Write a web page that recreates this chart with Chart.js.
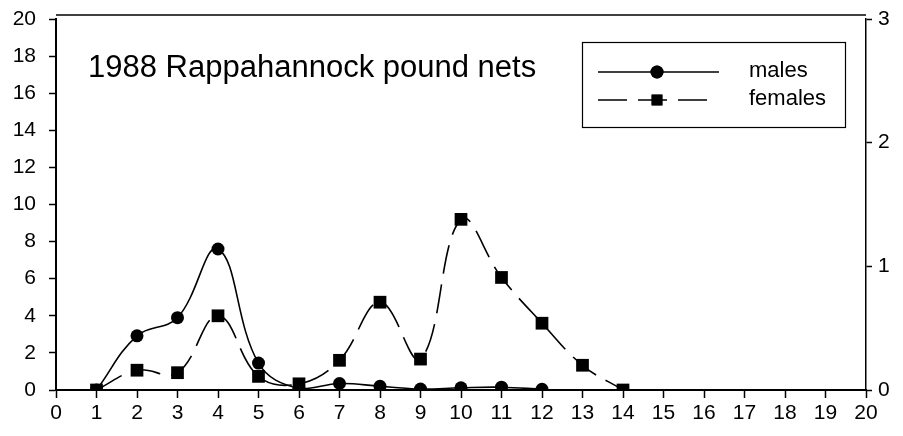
<!DOCTYPE html>
<html>
<head>
<meta charset="utf-8">
<script src="https://cdn.jsdelivr.net/npm/chart.js@4/dist/chart.umd.min.js"></script>
<style>
html,body{margin:0;padding:0;background:#fff;}
#wrap{width:903px;height:436px;position:relative;}
</style>
</head>
<body>
<div id="wrap"><canvas id="c" width="903" height="436"></canvas></div>
<script>
const titleText = "1988 Rappahannock pound nets";
const xTicks = [0,1,2,3,4,5,6,7,8,9,10,11,12,13,14,15,16,17,18,19,20];
const leftTicks = [0,2,4,6,8,10,12,14,16,18,20];
const rightTicks = [0,1,2,3];
const maleX = [1,2,3,4,5,6,7,8,9,10,11,12];
const maleY = [0,2.92,3.9,7.6,1.45,0.08,0.35,0.2,0.05,0.12,0.15,0.04];
const femaleX = [1,2,3,4,5,6,7,8,9,10,11,12,13,14];
const femaleY = [0,0.16,0.14,0.60,0.11,0.05,0.24,0.71,0.25,1.38,0.91,0.54,0.20,0];
const seriesNames = ["males","females"];

const FONT = "'Liberation Sans', Arial, Helvetica, sans-serif";

const overlay = {
  id: 'overlay',
  afterDraw(chart) {
    const ctx = chart.ctx;
    const a = chart.chartArea;
    ctx.save();
    // top frame line
    ctx.strokeStyle = '#000';
    ctx.lineWidth = 1.5;
    ctx.beginPath();
    ctx.moveTo(a.left, a.top - 4);
    ctx.lineTo(a.right, a.top - 4);
    ctx.stroke();
    // title
    ctx.fillStyle = '#000';
    ctx.font = "31px " + FONT;
    ctx.textBaseline = 'alphabetic';
    ctx.textAlign = 'left';
    ctx.fillText(titleText, a.left + 32, a.top + 58);
    // legend box
    const bx = a.right - 284, by = a.top + 23, bw = 263, bh = 85;
    ctx.lineWidth = 1.2;
    ctx.strokeRect(bx + 0.5, by + 0.5, bw, bh);
    const ds = chart.data.datasets;
    const rows = [{d: ds[0], y: by + 30, x2: bx + 137}, {d: ds[1], y: by + 58, x2: bx + 125}];
    rows.forEach(r => {
      ctx.save();
      ctx.strokeStyle = '#000';
      ctx.lineWidth = r.d.borderWidth;
      ctx.setLineDash(r.d.borderDash || []);
      ctx.beginPath();
      ctx.moveTo(bx + 16, r.y);
      ctx.lineTo(r.x2, r.y);
      ctx.stroke();
      ctx.restore();
      Chart.helpers.drawPoint(ctx, {pointStyle: r.d.pointStyle, radius: r.d.pointRadius * (r.d.pointStyle === 'rect' ? 0.85 : 1), borderWidth: 0, rotation: 0}, bx + 75, r.y);
      ctx.fillStyle = '#000';
      ctx.fill();
      ctx.font = "22px " + FONT;
      ctx.textBaseline = 'middle';
      ctx.fillText(r.d.label, bx + 167, r.y - 1);
    });
    ctx.restore();
  }
};

function noPad(s) { s.paddingTop = 0; s.paddingBottom = 0; s.paddingLeft = 0; s.paddingRight = 0; }

new Chart(document.getElementById('c'), {
  type: 'line',
  data: {
    datasets: [
      {
        label: seriesNames[0],
        data: maleX.map((x, i) => ({x: x, y: maleY[i]})),
        yAxisID: 'y',
        borderColor: '#000',
        backgroundColor: '#000',
        borderWidth: 1.6,
        pointStyle: 'circle',
        pointRadius: 6.5,
        pointBorderWidth: 0,
        tension: 0.4,
        fill: false,
        order: 1
      },
      {
        label: seriesNames[1],
        data: femaleX.map((x, i) => ({x: x, y: femaleY[i]})),
        yAxisID: 'y1',
        borderColor: '#000',
        backgroundColor: '#000',
        borderWidth: 1.6,
        borderDash: [29, 11],
        pointStyle: 'rect',
        pointRadius: 9,
        pointBorderWidth: 0,
        tension: 0.4,
        fill: false,
        order: 0
      }
    ]
  },
  options: {
    responsive: false,
    animation: false,
    devicePixelRatio: 1,
    layout: {padding: {top: 19, left: 0, right: 0, bottom: 0}},
    plugins: {legend: {display: false}, tooltip: {enabled: false}, title: {display: false}},
    scales: {
      x: {
        type: 'linear', min: 0, max: 20,
        afterBuildTicks: s => { s.ticks = xTicks.map(v => ({value: v})); },
        afterFit: s => { s.height = 46; noPad(s); },
        ticks: {color: '#000', font: {family: FONT, size: 21}, padding: 3, maxRotation: 0, autoSkip: false},
        grid: {display: true, drawOnChartArea: false, drawTicks: true, tickLength: 8, tickColor: '#000', tickWidth: 1.5},
        border: {display: true, color: '#000', width: 2}
      },
      y: {
        type: 'linear', position: 'left', min: 0, max: 20,
        afterBuildTicks: s => { s.ticks = leftTicks.map(v => ({value: v})); },
        afterFit: s => { s.width = 56; noPad(s); },
        ticks: {color: '#000', font: {family: FONT, size: 21}, padding: 13, autoSkip: false},
        grid: {display: true, drawOnChartArea: false, drawTicks: true, tickLength: 7, tickColor: '#000', tickWidth: 1.5},
        border: {display: true, color: '#000', width: 2}
      },
      y1: {
        type: 'linear', position: 'right', min: 0, max: 3,
        afterBuildTicks: s => { s.ticks = rightTicks.map(v => ({value: v})); },
        afterFit: s => { s.width = 37; noPad(s); },
        ticks: {color: '#000', font: {family: FONT, size: 21}, padding: 6, autoSkip: false},
        grid: {display: true, drawOnChartArea: false, drawTicks: true, tickLength: 6, tickColor: '#000', tickWidth: 1.5},
        border: {display: true, color: '#000', width: 1.5}
      }
    }
  },
  plugins: [overlay]
});
</script>
</body>
</html>
